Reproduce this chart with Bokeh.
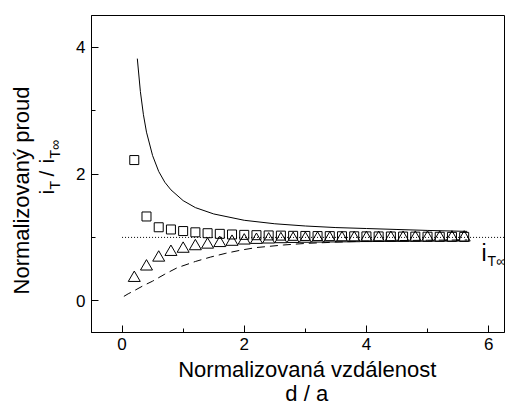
import numpy as np
from bokeh.plotting import figure
from bokeh.models import Label, Range1d, FixedTicker
from bokeh.layouts import row, column
from bokeh.embed import file_html
from bokeh.resources import INLINE

# ---- data ----
pts_x = [0.2, 0.4, 0.6, 0.8, 1.0, 1.2, 1.4, 1.6, 1.8, 2.0, 2.2, 2.4, 2.6, 2.8,
         3.0, 3.2, 3.4, 3.6, 3.8, 4.0, 4.2, 4.4, 4.6, 4.8, 5.0, 5.2, 5.4, 5.6]
squares_y = [2.22, 1.33, 1.16, 1.125, 1.10, 1.08, 1.066, 1.056, 1.046, 1.04,
             1.035, 1.031, 1.028, 1.025, 1.023, 1.021, 1.02, 1.018, 1.017, 1.016,
             1.015, 1.014, 1.013, 1.012, 1.011, 1.01, 1.009, 1.008]
triangles_y = [0.36, 0.54, 0.68, 0.77, 0.82, 0.86, 0.885, 0.91, 0.93, 0.95,
               0.96, 0.966, 0.971, 0.975, 0.978, 0.981, 0.983, 0.985, 0.987, 0.989,
               0.99, 0.991, 0.992, 0.993, 0.994, 0.995, 0.996, 0.997]

pos_x = [0.25, 0.3, 0.35, 0.4, 0.5, 0.6, 0.7, 0.8, 1.0, 1.2, 1.5, 2.0, 2.5,
         3.0, 3.5, 4.0, 4.5, 5.0, 5.65]
pos_y = [3.82, 3.30, 2.935, 2.66, 2.29, 2.04, 1.87, 1.75, 1.58, 1.47, 1.37,
         1.27, 1.215, 1.18, 1.155, 1.14, 1.125, 1.11, 1.095]

neg_x = [0.03, 0.1, 0.2, 0.35, 0.5, 0.7, 0.9, 1.2, 1.45, 1.7, 1.95, 2.2, 2.64,
         3.0, 3.5, 4.0, 4.5, 5.0, 5.65]
neg_y = [0.07, 0.11, 0.16, 0.24, 0.31, 0.42, 0.52, 0.62, 0.69, 0.75, 0.80, 0.84,
         0.88, 0.905, 0.925, 0.94, 0.95, 0.955, 0.96]

ref_x = [0.0, 6.3]
ref_y = [1.0, 1.0]

x_ticks = [0, 2, 4, 6]
x_minor = [1, 3, 5]
y_ticks = [0, 2, 4]
y_minor = [1, 3]

x_title = "Normalizovaná vzdálenost"
x_title2 = "d / a"
y_title = "Normalizovaný proud"

# ---- layout (page pixels) ----
W, H = 517, 407
LW = 70            # width of the left text strip
MH = 358           # height of the main plot
FL, FR, FT, FB = 91, 504, 15, 332   # plot frame in page pixels
X0, X1 = -0.5, 6.26
Y0, Y1 = -0.5, 4.5
FONT = "Liberation Sans"
K = 0.43           # baseline correction (fraction of font size)


def text_strip(w, h):
    f = figure(width=w, height=h, output_backend="svg", toolbar_location=None,
               title=None,
               x_range=Range1d(0, w), y_range=Range1d(0, h),
               x_axis_location=None, y_axis_location=None,
               min_border=0, min_border_left=0, min_border_right=0,
               min_border_top=0, min_border_bottom=0)
    f.grid.visible = False
    f.outline_line_color = None
    f.background_fill_color = "white"
    f.border_fill_color = "white"
    return f


def put(f, ox, oy, h, px, py, text, size, align="center", rotated=False):
    # px, py: page pixel position of the text baseline anchor
    if rotated:
        px = px - K * size
    else:
        py = py - K * size
    f.add_layout(Label(x=px - ox, y=h - (py - oy), text=text, text_font=FONT,
                       text_font_size=f"{size}px", text_color="black",
                       text_align=align, text_baseline="alphabetic",
                       angle=np.pi / 2 if rotated else 0.0))


# ---- main plot ----
MW = W - LW
p = figure(width=MW, height=MH, output_backend="svg", toolbar_location=None,
           title=None,
           x_range=Range1d(X0, X1), y_range=Range1d(Y0, Y1),
           min_border_left=FL - LW, min_border_right=W - FR,
           min_border_top=FT, min_border_bottom=MH - FB)
p.grid.visible = False
p.outline_line_color = "black"
p.outline_line_width = 1
p.background_fill_color = "white"
p.border_fill_color = "white"

p.xaxis.ticker = FixedTicker(ticks=x_ticks, minor_ticks=x_minor)
p.yaxis.ticker = FixedTicker(ticks=y_ticks, minor_ticks=y_minor)
for ax in (p.xaxis[0], p.yaxis[0]):
    ax.major_tick_in = 7
    ax.major_tick_out = 0
    ax.minor_tick_in = 4
    ax.minor_tick_out = 0
    ax.axis_line_color = "black"
    ax.major_tick_line_color = "black"
    ax.minor_tick_line_color = "black"
    ax.major_label_text_font = FONT
    ax.major_label_text_font_size = "17px"
    ax.major_label_text_color = "black"
p.yaxis.major_label_standoff = 6

p.line(pos_x, pos_y, line_color="black", line_width=1)
p.line(neg_x, neg_y, line_color="black", line_width=1, line_dash="8 5")
p.line(ref_x, ref_y, line_color="black", line_width=1, line_dash="1 2")
p.scatter(pts_x, squares_y, marker="square", size=9, fill_color=None,
          line_color="black", line_width=1)
p.scatter(pts_x, triangles_y, marker="triangle", size=12, fill_color=None,
          line_color="black", line_width=1)


def dx(px):
    return X0 + (px - FL) / (FR - FL) * (X1 - X0)


def dy(py):
    return Y0 + (FB - py) / (FB - FT) * (Y1 - Y0)


for px, py, t, s in [(481, 262, "i", 23), (487, 267, "T∞", 14)]:
    p.add_layout(Label(x=dx(px), y=dy(py - K * s), text=t, text_font=FONT,
                       text_font_size=f"{s}px", text_color="black",
                       text_align="left", text_baseline="alphabetic"))

# ---- left strip: y title ----
left = text_strip(LW, H)
put(left, 0, 0, H, 30, 190, y_title, 22, rotated=True)
put(left, 0, 0, H, 55, 194, "i", 21, align="left", rotated=True)
put(left, 0, 0, H, 61, 189, "T", 14, align="left", rotated=True)
put(left, 0, 0, H, 55, 176, "/", 21, align="left", rotated=True)
put(left, 0, 0, H, 55, 163, "i", 21, align="left", rotated=True)
put(left, 0, 0, H, 61, 158, "T∞", 14, align="left", rotated=True)

# ---- bottom strip: x title ----
BH = H - MH
bottom = text_strip(MW, BH)
put(bottom, LW, MH, BH, 303.5, 378, x_title, 22)
put(bottom, LW, MH, BH, 303, 402, x_title2, 22)

layout = row(left, column(p, bottom, spacing=0), spacing=0)
open("out.html", "w").write(file_html(layout, INLINE))
